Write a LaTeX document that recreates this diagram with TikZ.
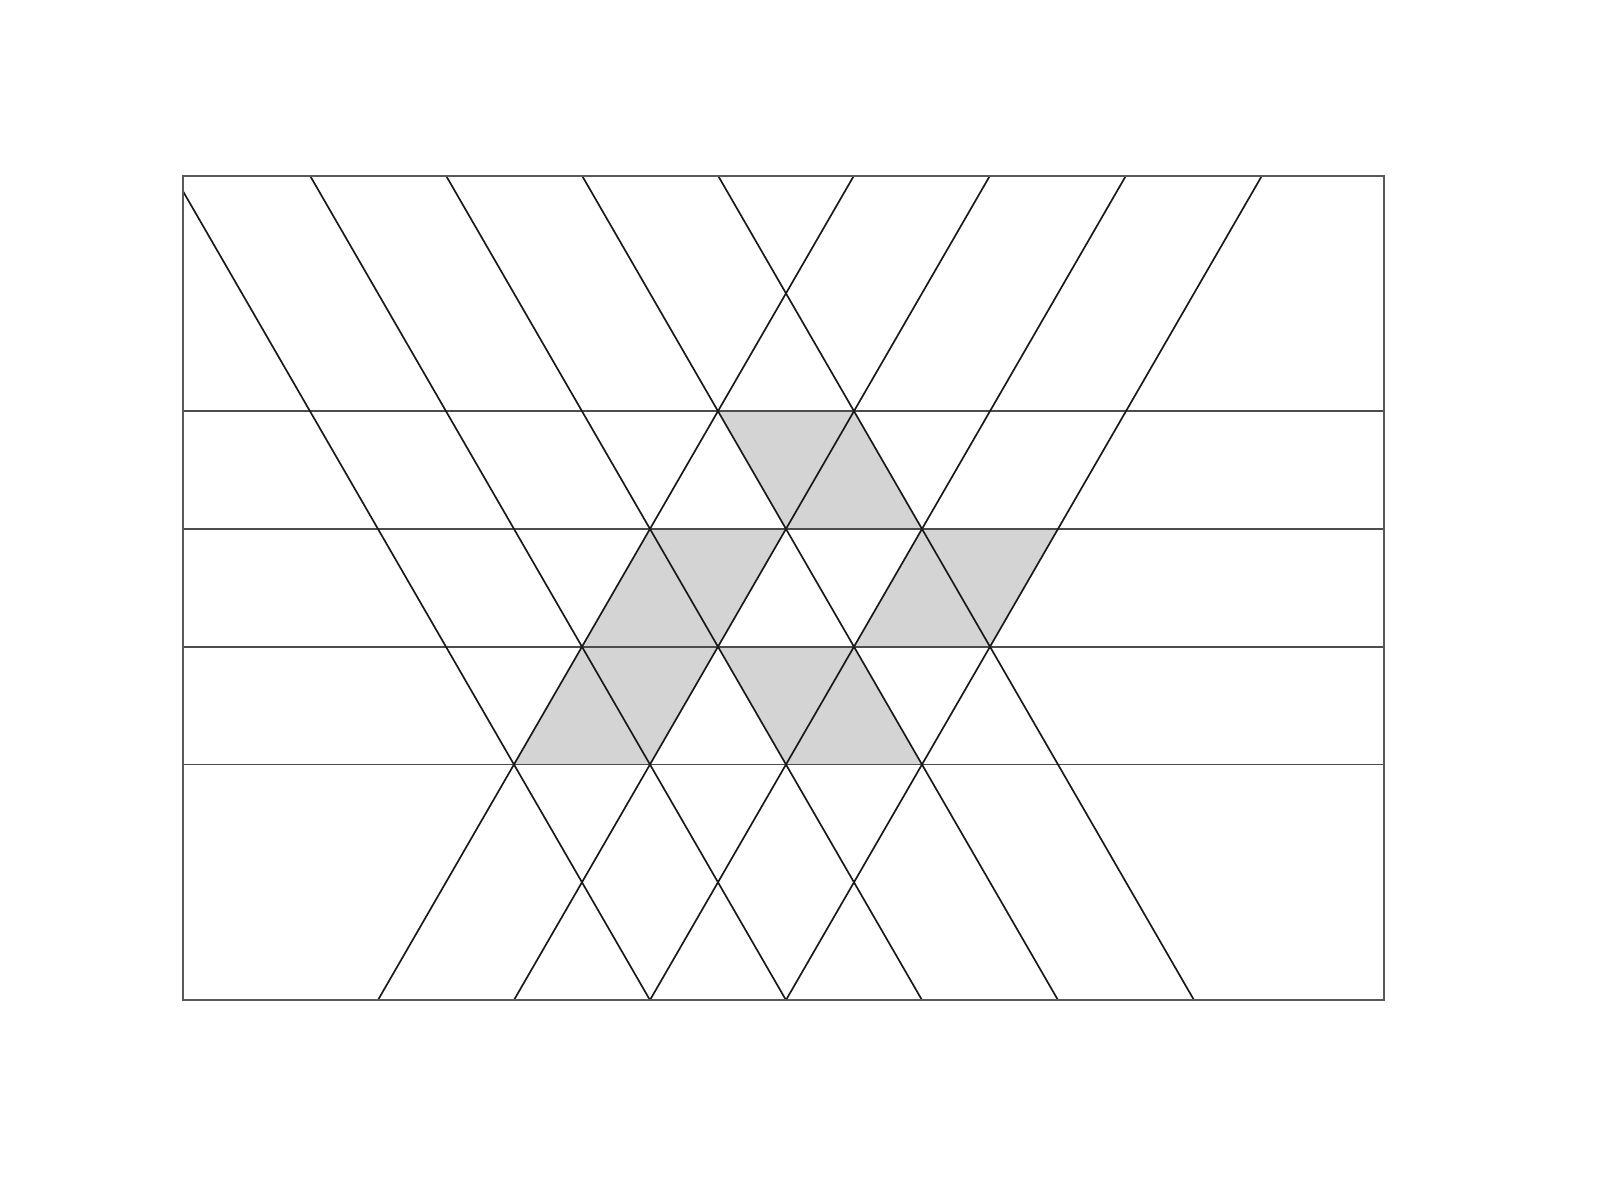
\documentclass[tikz,border=0pt]{standalone}
\begin{document}
\begin{tikzpicture}[x=1cm,y=1cm,
  frame/.style={draw=black!65,line width=0.4pt},
  hline/.style={draw=black!70,line width=0.4pt},
  dline/.style={draw=black!90,line width=0.35pt},
  shade/.style={fill=black!17}]
\pgfmathsetmacro{\h}{0.8660254}
\useasboundingbox (-4.779,-1.4706) rectangle (6.985,7.353);
% shaded parallelograms
\fill[shade] (0.5,5*\h) -- (1.5,5*\h) -- (2,4*\h) -- (1,4*\h) -- cycle;
\fill[shade] (0,4*\h) -- (1,4*\h) -- (0.5,3*\h) -- (-0.5,3*\h) -- cycle;
\fill[shade] (2,4*\h) -- (3,4*\h) -- (2.5,3*\h) -- (1.5,3*\h) -- cycle;
\fill[shade] (-0.5,3*\h) -- (0.5,3*\h) -- (0,2*\h) -- (-1,2*\h) -- cycle;
\fill[shade] (0.5,3*\h) -- (1.5,3*\h) -- (2,2*\h) -- (1,2*\h) -- cycle;
% horizontal lines
\foreach \r in {2,3,4,5} \draw[hline] (-3.434,\r*\h) -- (5.397,\r*\h);
% diagonals
\begin{scope}
\clip (-3.434,0) rectangle (5.397,7*\h);
\foreach \a in {0,1,2,3,4} \draw[dline] (\a-3.5,7*\h) -- (\a,0);
\foreach \b in {-2,-1,0,1} \draw[dline] (\b,0) -- (\b+3.5,7*\h);
\end{scope}
% frame
\draw[frame] (-3.434,0) rectangle (5.397,7*\h);
\end{tikzpicture}
\end{document}
